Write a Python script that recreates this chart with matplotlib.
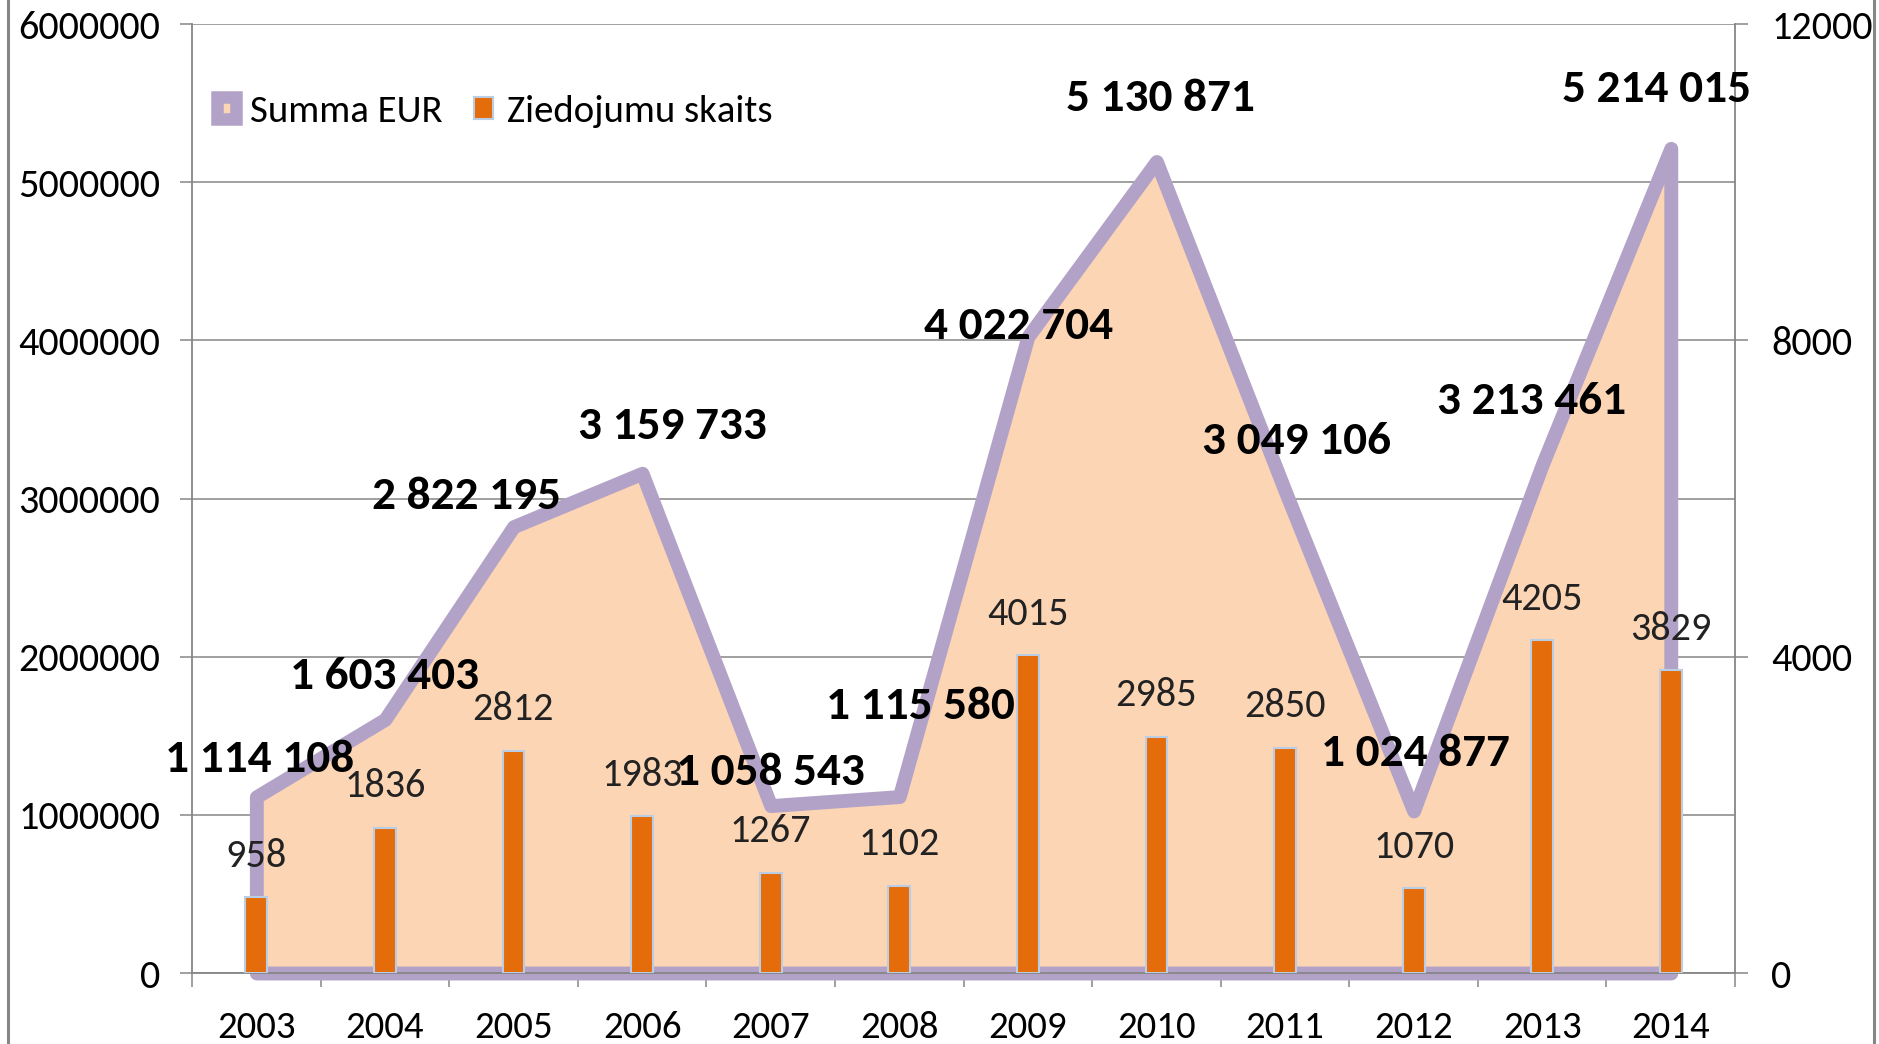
import matplotlib
matplotlib.use('Agg')
import matplotlib.pyplot as plt
from matplotlib import font_manager
from matplotlib.lines import Line2D
from matplotlib.patches import Patch

# Calibri look-alike if it is there, otherwise Liberation Sans a bit smaller
installed = {f.name for f in font_manager.fontManager.ttflist}
if 'Carlito' in installed:
    plt.rcParams['font.family'] = ['Carlito', 'DejaVu Sans']
    k = 1.0
else:
    plt.rcParams['font.family'] = ['Liberation Sans', 'DejaVu Sans']
    k = 0.91

# Data
years = ['2003', '2004', '2005', '2006', '2007', '2008',
         '2009', '2010', '2011', '2012', '2013', '2014']
summa_eur = [1114108, 1603403, 2822195, 3159733, 1058543, 1115580,
             4022704, 5130871, 3049106, 1024877, 3213461, 5214015]
ziedojumu_skaits = [958, 1836, 2812, 1983, 1267, 1102,
                    4015, 2985, 2850, 1070, 4205, 3829]

# Where Excel put the big labels, offset from the point (points)
label_offsets = [(2, 27), (0, 31), (-34, 22), (22, 34), (0, 24), (15, 65),
                 (-7, 8), (3, 46), (8, 36), (1, 42), (-8, 46), (-10, 43)]

grey = '#868686'
purple = '#B3A2C7'
peach = '#FCD5B5'
orange = '#E46C0A'
light_blue = '#B9CDE5'

fig = plt.figure(figsize=(18.79, 10.44), dpi=100)
ax = fig.add_axes([0.1022, 0.068, 0.8212, 0.909])
x = list(range(len(years)))

# Area for the sum, purple thick outline
ax.fill_between(x, summa_eur, 0, facecolor=peach, edgecolor=purple,
                linewidth=10, joinstyle='round', zorder=2, clip_on=False)
ax.set_ylim(0, 6000000)
ax.set_xlim(-0.5, len(years) - 0.5)
ax.set_yticks(range(0, 6000001, 1000000))
ax.set_yticklabels([str(v) for v in range(0, 6000001, 1000000)])
ax.grid(axis='y', color=grey, linewidth=1.1, zorder=0)
ax.set_axisbelow(True)

# x ticks at the category boundaries, year labels in the middle
ax.set_xticks([i - 0.5 for i in range(len(years) + 1)])
ax.set_xticklabels([])
ax.set_xticks(x, minor=True)
ax.set_xticklabels(years, minor=True)
ax.tick_params(axis='x', which='major', length=10, width=1.1, color=grey, direction='out')
ax.tick_params(axis='x', which='minor', length=0, pad=27, labelsize=28 * k)
ax.tick_params(axis='y', length=9, width=1.1, color=grey, pad=14, labelsize=29 * k)

for side in ['top', 'right']:
    ax.spines[side].set_visible(False)
for side in ['left', 'bottom']:
    ax.spines[side].set_color(grey)
    ax.spines[side].set_linewidth(1.3)

# Bars for the count on the right axis
ax2 = ax.twinx()
ax2.bar(x, ziedojumu_skaits, width=0.17, color=orange, edgecolor=light_blue,
        linewidth=1.5, zorder=3)
ax2.set_ylim(0, 12000)
ax2.set_yticks([0, 4000, 8000, 12000])
ax2.set_yticklabels(['0', '4000', '8000', '12000'])
ax2.tick_params(axis='y', length=9, width=1.1, color=grey, pad=17, labelsize=29 * k)
for side in ['top', 'left', 'bottom']:
    ax2.spines[side].set_visible(False)
ax2.spines['right'].set_color(grey)
ax2.spines['right'].set_linewidth(1.3)

for i, v in enumerate(ziedojumu_skaits):
    ax2.annotate(str(v), (i, v), xytext=(0, 30), textcoords='offset points',
                 ha='center', va='center', fontsize=29 * k, color='#222222')

# Sum labels with spaces as thousand separators
for i, v in enumerate(summa_eur):
    text = '{:,}'.format(v).replace(',', ' ')
    ax2.annotate(text, (i, v / 6000000 * 12000), xytext=label_offsets[i],
                 textcoords='offset points', ha='center', va='center',
                 fontsize=34 * k, fontweight='bold', color='black', zorder=5)

handles = [Patch(facecolor=peach, edgecolor=purple, linewidth=9, joinstyle='round'),
           Patch(facecolor=orange, edgecolor=light_blue, linewidth=1.5)]
ax2.legend(handles, ['Summa EUR', 'Ziedojumu skaits'], loc='center left',
           bbox_to_anchor=(0.016, 0.908), ncol=2, frameon=False, fontsize=28 * k,
           handlelength=0.5, handleheight=0.5, handletextpad=0.35,
           columnspacing=0.8, borderpad=0, borderaxespad=0)

# Grey frame lines on the sides of the picture
fig.add_artist(Line2D([0.0045, 0.0045], [0, 1], transform=fig.transFigure,
                      color=grey, linewidth=2.2))
fig.add_artist(Line2D([0.9975, 0.9975], [0, 1], transform=fig.transFigure,
                      color=grey, linewidth=2.2))

fig.savefig('out.png', dpi=100)
